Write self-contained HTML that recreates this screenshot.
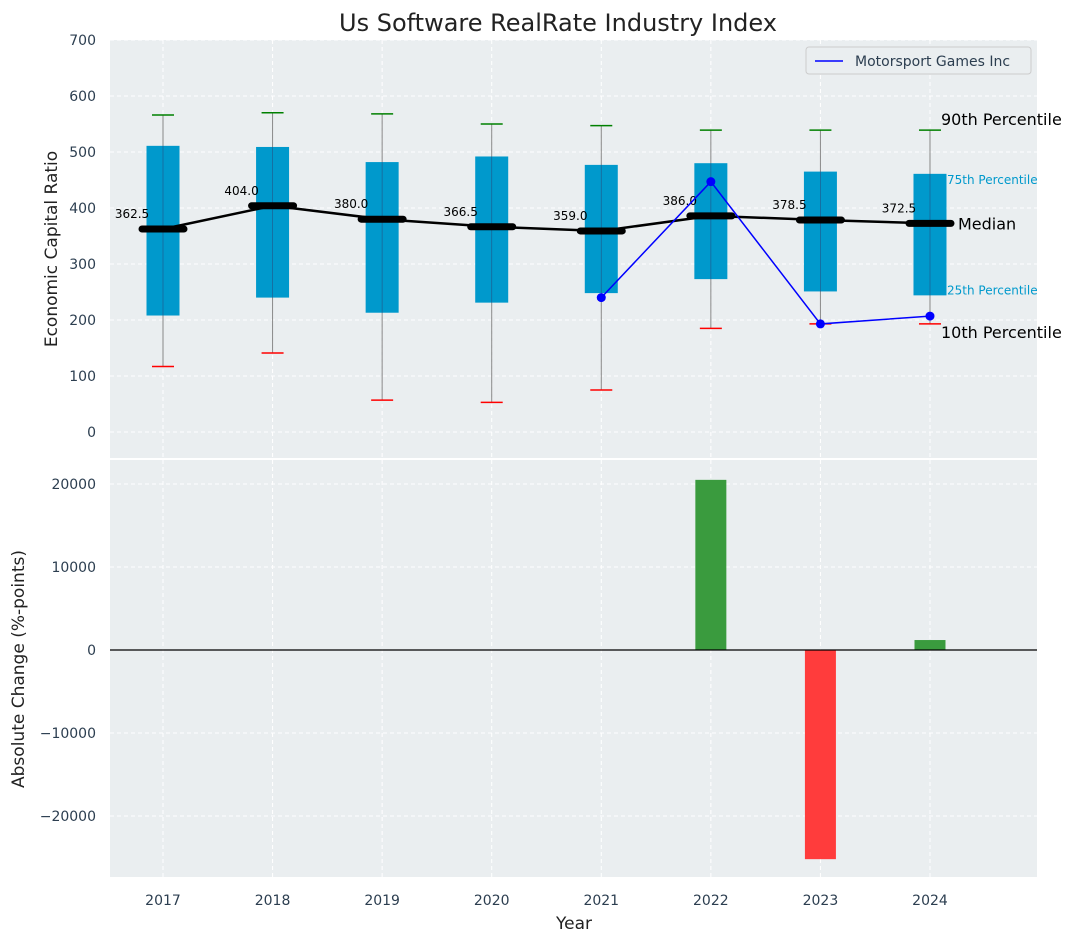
<!DOCTYPE html>
<html><head><meta charset="utf-8"><style>
body{margin:0;background:#fff;font-family:"Liberation Sans","DejaVu Sans",sans-serif}
svg text{font-family:"DejaVu Sans","Liberation Sans",sans-serif}
</style></head><body>
<svg id="c" width="1076" height="942" xmlns="http://www.w3.org/2000/svg"></svg>
<script>
const years=[2017,2018,2019,2020,2021,2022,2023,2024];
const p10=[117,141,57,53,75,185,193,193];
const p25=[208,240,213,231,248,273,251,244];
const med=[362.5,404,380,366.5,359,386,378.5,372.5];
const p75=[511,509,482,492,477,480,465,461];
const p90=[566,570,568,550,547,539,539,539];
const compYears=[2021,2022,2023,2024];
const compVals=[240,447,193,207];
const chgYears=[2022,2023,2024];
const chgVals=[20500,-25200,1200];
const topTicks=[0,100,200,300,400,500,600,700];
const botTicks=[-20000,-10000,0,10000,20000];

const NS="http://www.w3.org/2000/svg";
const svg=document.getElementById('c');
function el(t,a,txt){const e=document.createElementNS(NS,t);for(const k in a)e.setAttribute(k,a[k]);if(txt!=null)e.textContent=txt;svg.appendChild(e);return e;}
const L=110,R=1037;
const x=y=>163+(y-2017)*109.57;
const yT=v=>432-0.56*v;
const yB=v=>650-v*0.0083;

let e;
e=el('rect',{x:L,y:40,width:R-L,height:418,fill:'#eaeef0'});

e=el('rect',{x:L,y:460,width:R-L,height:417,fill:'#eaeef0'});


topTicks.forEach(t=>{
  el('line',{x1:L,x2:R,y1:yT(t),y2:yT(t),stroke:'#fff','stroke-dasharray':'4,3','stroke-width':1});
  e=el('text',{x:96,y:yT(t)+5,'text-anchor':'end','font-size':14,fill:'#2c3e50'},t);
  
});
botTicks.forEach(t=>{
  el('line',{x1:L,x2:R,y1:yB(t),y2:yB(t),stroke:'#fff','stroke-dasharray':'4,3','stroke-width':1});
  e=el('text',{x:96,y:yB(t)+5,'text-anchor':'end','font-size':14,fill:'#2c3e50'},t<0?'\u2212'+(-t):t);
  
});
years.forEach(y=>{
  el('line',{x1:x(y),x2:x(y),y1:40,y2:458,stroke:'#fff','stroke-dasharray':'4,3'});
  el('line',{x1:x(y),x2:x(y),y1:460,y2:877,stroke:'#fff','stroke-dasharray':'4,3'});
  e=el('text',{x:x(y),y:905,'text-anchor':'middle','font-size':14,fill:'#2c3e50'},y);
  
});

years.forEach((y,i)=>{
  const cx=x(y);
  e=el('line',{x1:cx,x2:cx,y1:yT(p10[i]),y2:yT(p90[i]),stroke:'#888','stroke-width':1});
  
  e=el('rect',{x:cx-16.5,y:yT(p75[i]),width:33,height:yT(p25[i])-yT(p75[i]),fill:'#0099cc'});
  
  el('line',{x1:cx,x2:cx,y1:yT(p75[i]),y2:yT(p25[i]),stroke:'#336',"stroke-width":0.8,opacity:0.5});
  e=el('line',{x1:cx-11,x2:cx+11,y1:yT(p90[i]),y2:yT(p90[i]),stroke:'green','stroke-width':1.5});
  
  e=el('line',{x1:cx-11,x2:cx+11,y1:yT(p10[i]),y2:yT(p10[i]),stroke:'red','stroke-width':1.5});
  
});
e=el('polyline',{points:years.map((y,i)=>x(y)+','+yT(med[i])).join(' '),fill:'none',stroke:'#000','stroke-width':2.5});

years.forEach((y,i)=>{
  const cx=x(y);
  e=el('line',{x1:cx-21,x2:cx+21,y1:yT(med[i]),y2:yT(med[i]),stroke:'#000','stroke-width':7,'stroke-linecap':'round'});
  
  e=el('text',{x:cx-31,y:yT(med[i])-11,'text-anchor':'middle','font-size':12,fill:'#000'},med[i].toFixed(1));
  
});
e=el('polyline',{points:compYears.map((y,i)=>x(y)+','+yT(compVals[i])).join(' '),fill:'none',stroke:'blue','stroke-width':1.5});

compYears.forEach((y,i)=>{e=el('circle',{cx:x(y),cy:yT(compVals[i]),r:4.5,fill:'blue'});
  });

const ax=x(2024);
[['90th Percentile',ax+11,yT(p90[7])-5,16,'#000'],['75th Percentile',ax+17,yT(p75[7])+10,12,'#0099cc'],['Median',ax+28,yT(med[7])+6,16,'#000'],['25th Percentile',ax+17,yT(p25[7])-1,12,'#0099cc'],['10th Percentile',ax+11,yT(p10[7])+14,16,'#000']].forEach(a=>{
  e=el('text',{x:a[1],y:a[2],'font-size':a[3],fill:a[4]},a[0]);
  
});

chgYears.forEach((y,i)=>{
  const v=chgVals[i];
  e=el('rect',{x:x(y)-15.5,y:Math.min(yB(v),yB(0)),width:31,height:Math.abs(yB(v)-yB(0)),fill:v>=0?'#3a9b3e':'#ff3c3c'});
  
});
e=el('line',{x1:L,x2:R,y1:yB(0),y2:yB(0),stroke:'#000','stroke-width':1.2});


e=el('rect',{x:806,y:47,width:225,height:27,fill:'#eaeef0',stroke:'#ccc',rx:3});

el('line',{x1:815,x2:843,y1:61,y2:61,stroke:'blue','stroke-width':1.5});
e=el('text',{x:855,y:66,'font-size':14,fill:'#2c3e50'},'Motorsport Games Inc');


e=el('text',{x:558,y:31,'text-anchor':'middle','font-size':24,fill:'#222'},'Us Software RealRate Industry Index');

e=el('text',{x:574,y:929,'text-anchor':'middle','font-size':17,fill:'#222'},'Year');

e=el('text',{x:0,y:0,'text-anchor':'middle','font-size':17,fill:'#222',transform:'translate(57,249) rotate(-90)'},'Economic Capital Ratio');

e=el('text',{x:0,y:0,'text-anchor':'middle','font-size':17,fill:'#222',transform:'translate(24,669) rotate(-90)'},'Absolute Change (%-points)');

</script>
</body></html>
